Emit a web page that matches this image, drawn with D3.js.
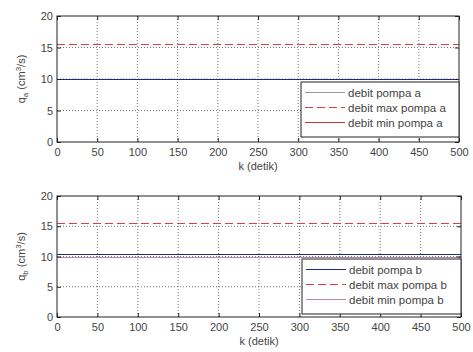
<!DOCTYPE html>
<html>
<head>
<meta charset="utf-8">
<script src="https://cdn.jsdelivr.net/npm/d3@7"></script>
<style>
  body { margin: 0; background: #fff; }
  svg { display: block; font-family: Arial, "Liberation Sans", sans-serif; }
</style>
</head>
<body>
<div id="grafica"></div>
<script>
// waktu (k) dan nilai debit
var kVals = [0, 500];
var qaVals = [10, 10];
var qaMaxVals = [15.6, 15.6];
var qaMinVals = [10, 10];
var qbVals = [10.4, 10.4];
var qbMaxVals = [15.6, 15.6];
var qbMinVals = [10, 10];
var xTicks = [0, 50, 100, 150, 200, 250, 300, 350, 400, 450, 500];
var yTicks = [0, 5, 10, 15, 20];
var legendA = ["debit pompa a", "debit max pompa a", "debit min pompa a"];
var legendB = ["debit pompa b", "debit max pompa b", "debit min pompa b"];

var svg = d3.select("#grafica").append("svg")
  .attr("width", 473).attr("height", 352);

function drawPlot(opt) {
  var width = opt.width, height = opt.height;
  var g = svg.append("g").attr("transform", "translate(" + opt.left + "," + opt.top + ")");

  var x = d3.scaleLinear().domain([0, 500]).range([0, width]);
  var y = d3.scaleLinear().domain([0, 20]).range([height, 0]);

  // grid titik-titik
  g.append("g").selectAll("line").data(xTicks.slice(1, -1)).enter().append("line")
    .attr("x1", d => x(d)).attr("x2", d => x(d)).attr("y1", 0).attr("y2", height)
    .attr("stroke", "#555").attr("stroke-width", 0.8).attr("stroke-dasharray", "1,2");
  g.append("g").selectAll("line").data(yTicks.slice(1, -1)).enter().append("line")
    .attr("y1", d => y(d)).attr("y2", d => y(d)).attr("x1", 0).attr("x2", width)
    .attr("stroke", "#555").attr("stroke-width", 0.8).attr("stroke-dasharray", "1,2");

  var line = d3.line()
    .x((d, i) => x(kVals[i]))
    .y(d => Math.round(y(d)) + 0.5);

  // gambar dari belakang: min, max, lalu debit
  opt.series.slice().reverse().forEach(function(s) {
    g.append("path").datum(s.values)
      .attr("fill", "none")
      .attr("stroke", s.color)
      .attr("stroke-width", s.width)
      .attr("stroke-dasharray", s.dash)
      .attr("shape-rendering", "crispEdges")
      .attr("d", line);
  });

  // sumbu dengan tick ke dalam
  var ax = g.append("g").attr("transform", "translate(0," + height + ")")
    .call(d3.axisBottom(x).tickValues(xTicks).tickSizeInner(-4).tickSizeOuter(0).tickPadding(6));
  var axTop = g.append("g")
    .call(d3.axisTop(x).tickValues(xTicks).tickSizeInner(-4).tickSizeOuter(0).tickFormat(""));
  var ay = g.append("g")
    .call(d3.axisLeft(y).tickValues(yTicks).tickSizeInner(-4).tickSizeOuter(0).tickPadding(4));
  var ayR = g.append("g").attr("transform", "translate(" + width + ",0)")
    .call(d3.axisRight(y).tickValues(yTicks).tickSizeInner(-4).tickSizeOuter(0).tickFormat(""));
  [ax, axTop, ay, ayR].forEach(function(a) {
    a.select(".domain").remove();
    a.selectAll("line").attr("stroke", "#222");
    a.selectAll("text").attr("fill", "#444").style("font-size", "11px");
  });

  g.append("rect").attr("width", width).attr("height", height)
    .attr("fill", "none").attr("stroke", "#222").attr("stroke-width", 1);

  // label x
  g.append("text").attr("x", width / 2).attr("y", height + 28)
    .attr("text-anchor", "middle").attr("fill", "#444").style("font-size", "11px")
    .text("k (detik)");

  // label y
  var yl = g.append("text")
    .attr("transform", "translate(-32," + (height / 2) + ") rotate(-90)")
    .attr("text-anchor", "middle").attr("fill", "#444").style("font-size", "11px");
  yl.append("tspan").text("q");
  yl.append("tspan").attr("dy", 3).style("font-size", "8px").text(opt.sub);
  yl.append("tspan").attr("dy", -3).text(" (cm");
  yl.append("tspan").attr("dy", -4).style("font-size", "8px").text("3");
  yl.append("tspan").attr("dy", 4).text("/s)");

  // legenda
  var lg = g.append("g").attr("transform", "translate(" + opt.legX + "," + opt.legY + ")");
  lg.append("rect").attr("width", opt.legW).attr("height", opt.legH)
    .attr("fill", "#fff").attr("stroke", "#222").attr("stroke-width", 1);
  opt.series.forEach(function(s, i) {
    var yy = Math.round(10 + i * 15) + 0.5;
    lg.append("line").attr("x1", 4).attr("x2", 44).attr("y1", yy).attr("y2", yy)
      .attr("stroke", s.legColor || s.color).attr("stroke-width", s.width)
      .attr("stroke-dasharray", s.dash)
      .attr("shape-rendering", "crispEdges");
    lg.append("text").attr("x", 47).attr("y", yy + 4)
      .attr("fill", "#444").style("font-size", "11.5px").text(opt.labels[i]);
  });
}

drawPlot({
  left: 57, top: 16, width: 402, height: 126, sub: "a",
  legX: 244, legY: 66, legW: 158, legH: 55, labels: legendA,
  series: [
    { values: qaVals, color: "#1f2a80", width: 1.5, dash: null, legColor: "#999" },
    { values: qaMaxVals, color: "#d8404a", width: 1, dash: "8,4" },
    { values: qaMinVals, color: "#d0303a", width: 1, dash: null }
  ]
});

drawPlot({
  left: 57, top: 196, width: 404, height: 121, sub: "b",
  legX: 245, legY: 63, legW: 159, legH: 55, labels: legendB,
  series: [
    { values: qbVals, color: "#1f2a80", width: 1.5, dash: null },
    { values: qbMaxVals, color: "#d8404a", width: 1, dash: "8,4" },
    { values: qbMinVals, color: "#b08aa8", width: 1, dash: null }
  ]
});
</script>
</body>
</html>
